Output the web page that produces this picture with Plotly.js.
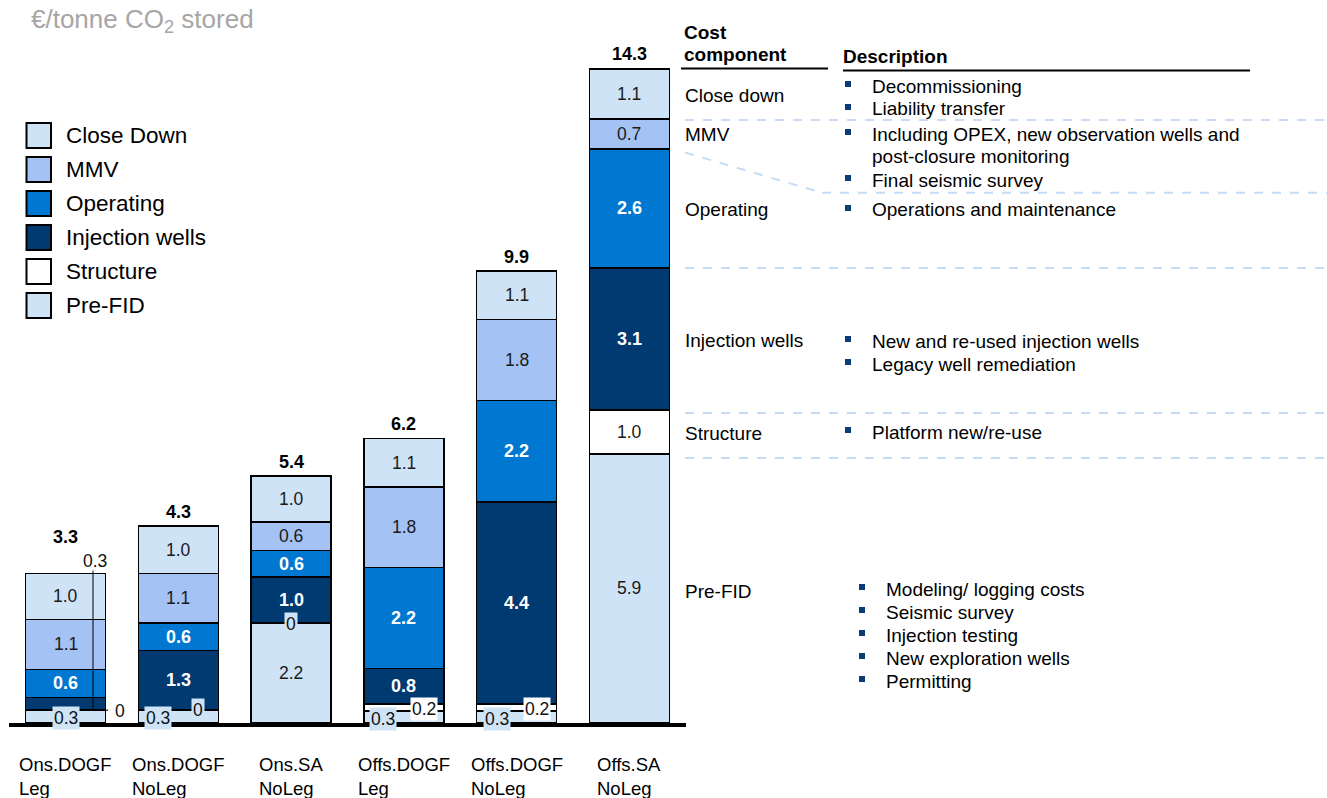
<!DOCTYPE html>
<html>
<head>
<meta charset="utf-8">
<script src="https://cdn.plot.ly/plotly-3.0.1.min.js"></script>
<style>html,body{margin:0;padding:0;background:#fff}#chart{width:1327px;height:798px}</style>
</head>
<body>
<div id="chart"></div>
<script>
// ---------------- DATA ----------------
const categories = ['Ons.DOGF Leg', 'Ons.DOGF NoLeg', 'Ons.SA NoLeg', 'Offs.DOGF Leg', 'Offs.DOGF NoLeg', 'Offs.SA NoLeg'];
const tickLabels = ['Ons.DOGF<br>Leg', 'Ons.DOGF<br>NoLeg', 'Ons.SA<br>NoLeg', 'Offs.DOGF<br>Leg', 'Offs.DOGF<br>NoLeg', 'Offs.SA<br>NoLeg'];

const preFID         = [0.28, 0.28, 2.19, 0.26, 0.26, 5.89];
const structure      = [0,    0,    0,    0.16, 0.16, 0.96];
const injectionWells = [0.28, 1.31, 1.00, 0.77, 4.42, 3.11];
const operating      = [0.61, 0.60, 0.59, 2.21, 2.22, 2.60];
const mmv            = [1.10, 1.08, 0.62, 1.76, 1.77, 0.66];
const closeDown      = [1.00, 1.04, 1.00, 1.07, 1.06, 1.09];

const componentNames = ['Pre-FID', 'Structure', 'Injection wells', 'Operating', 'MMV', 'Close Down'];

const unitLabel = '€/tonne CO<sub>2</sub> stored';

const costComponents = ['Close down', 'MMV', 'Operating', 'Injection wells', 'Structure', 'Pre-FID'];
const descriptions = [
  ['Decommissioning', 'Liability transfer'],
  [['Including OPEX, new observation wells and', 'post-closure monitoring'], 'Final seismic survey'],
  ['Operations and maintenance'],
  ['New and re-used injection wells', 'Legacy well remediation'],
  ['Platform new/re-use'],
  ['Modeling/ logging costs', 'Seismic survey', 'Injection testing', 'New exploration wells', 'Permitting']
];

// ---------------- STYLE ----------------
const componentColors = ['#CFE3F7', '#FFFFFF', '#003A70', '#0078D2', '#A4C2F4', '#CFE3F7'];
const darkComponents = ['Injection wells', 'Operating'];
const FONT = 'Liberation Sans, Arial, Helvetica, sans-serif';
const W = 1327, H = 798;
const plotLeft = 9.35, plotRight = 685.6, plotTop = 10, plotBottom = 723;
const pxPerUnit = 45.7;
const yMax = (plotBottom - plotTop) / pxPerUnit;
const catPx = (plotRight - plotLeft) / categories.length;
const px = v => v / W;
const py = v => 1 - v / H;

const seriesValues = [preFID, structure, injectionWells, operating, mmv, closeDown];

const traces = seriesValues.map((vals, j) => ({
  type: 'bar',
  name: componentNames[j],
  x: categories,
  y: vals,
  marker: {color: componentColors[j], line: {color: '#000', width: 1.5}},
  textposition: 'none',
  hoverinfo: 'none',
  showlegend: false
}));

const totals = categories.map((c, i) => seriesValues.reduce((s, a) => s + a[i], 0));
const fmt = v => v === 0 ? '0' : v.toFixed(1);

// special placement for the thin segments (pixel offsets)
const lightBg = '#CFE3F7';
const special = {
  'Pre-FID': {
    0: {ref: 'base', dx: 0, dy: 5, bg: lightBg},
    1: {ref: 'base', dx: -20, dy: 5, bg: lightBg},
    3: {ref: 'base', dx: -21, dy: 4, bg: lightBg},
    4: {ref: 'base', dx: -20, dy: 4, bg: lightBg}
  },
  'Structure': {
    0: {ref: 'base', dx: 54, dy: -1, bg: null},
    1: {ref: 'base', dx: 20, dy: 0, bg: lightBg},
    2: {ref: 'base', dx: 0, dy: -1, bg: lightBg},
    3: {ref: 'base', dx: 20, dy: 2, bg: '#FFFFFF'},
    4: {ref: 'base', dx: 20, dy: 2, bg: '#FFFFFF'}
  },
  'Injection wells': {
    0: {ref: 'total', dx: 29, dy: 13, bg: null}
  }
};
const totalShift = [37, 14, 14, 14, 14, 15];

const annotations = [];
const shapes = [];

categories.forEach((cat, i) => {
  let base = 0;
  seriesValues.forEach((vals, j) => {
    const v = vals[i];
    const name = componentNames[j];
    const sp = special[name] && special[name][i];
    const isDark = darkComponents.includes(name);
    if (sp) {
      const a = {
        x: cat, y: sp.ref === 'total' ? totals[i] : base,
        xref: 'x', yref: 'y', text: fmt(v), showarrow: false,
        xshift: sp.dx, yshift: sp.dy,
        font: {family: FONT, size: 17.5, color: '#111'},
        borderpad: 1
      };
      if (sp.bg) a.bgcolor = sp.bg;
      annotations.push(a);
    } else {
      annotations.push({
        x: cat, y: base + v / 2, xref: 'x', yref: 'y', text: fmt(v), showarrow: false,
        font: isDark ? {family: FONT, size: 18, color: '#FFFFFF', weight: 'bold'} : {family: FONT, size: 17.5, color: '#1a1a1a'}
      });
    }
    base += v;
  });
  // total
  annotations.push({
    x: cat, y: totals[i], xref: 'x', yref: 'y', text: '<b>' + fmt(totals[i]) + '</b>', showarrow: false,
    yshift: totalShift[i], font: {family: FONT, size: 18, color: '#000'}
  });
  // category label
  annotations.push({
    x: cat, y: py(776), xref: 'x', yref: 'paper', text: tickLabels[i], showarrow: false,
    align: 'left', xanchor: 'center', yanchor: 'middle',
    font: {family: FONT, size: 18.5, color: '#000'}
  });
});

// leader lines for first bar's thin segments
const unitPerPx = 1 / pxPerUnit;
shapes.push({type: 'line', xref: 'x', yref: 'y', x0: 27.3 / catPx, x1: 27.3 / catPx,
  y0: preFID[0], y1: totals[0] + 3 * unitPerPx, line: {color: '#000', width: 1}});
shapes.push({type: 'line', xref: 'x', yref: 'y', x0: 30.5 / catPx, x1: 42.5 / catPx,
  y0: preFID[0], y1: preFID[0], line: {color: '#000', width: 1}});

// unit title
annotations.push({x: px(29), y: py(21), xref: 'paper', yref: 'paper', xanchor: 'left', yanchor: 'middle',
  text: unitLabel, showarrow: false, font: {family: FONT, size: 26, color: '#A6A6A6'}});

// custom legend (top-most component first)
const legendNames = componentNames.slice().reverse();
const legendColors = componentColors.slice().reverse();
legendNames.forEach((n, k) => {
  const cy = 135.5 + k * 34;
  shapes.push({type: 'rect', xref: 'paper', yref: 'paper', x0: px(26.5), x1: px(51), y0: py(cy - 12.5), y1: py(cy + 12.5),
    fillcolor: legendColors[k], line: {color: '#000', width: 2}});
  annotations.push({x: px(64), y: py(cy), xref: 'paper', yref: 'paper', xanchor: 'left', yanchor: 'middle',
    text: n, showarrow: false, font: {family: FONT, size: 22.5, color: '#000'}});
});

// ---------------- RIGHT-HAND TABLE ----------------
const hdr = (t, x, y) => annotations.push({x: px(x), y: py(y), xref: 'paper', yref: 'paper', xanchor: 'left', yanchor: 'middle',
  text: '<b>' + t + '</b>', showarrow: false, font: {family: FONT, size: 19, color: '#000'}});
hdr('Cost', 682, 32);
hdr('component', 682, 54);
hdr('Description', 841, 57);
shapes.push({type: 'line', xref: 'paper', yref: 'paper', x0: px(681), x1: px(828), y0: py(68.5), y1: py(68.5), line: {color: '#000', width: 2}});
shapes.push({type: 'line', xref: 'paper', yref: 'paper', x0: px(843), x1: px(1250), y0: py(70.5), y1: py(70.5), line: {color: '#000', width: 2}});

const rowLabelY = [95, 134, 210, 340, 433, 591];
const descStartY = [86, 134, 210, 341, 432, 589];
const descIndent = [0, 0, 0, 0, 0, 14];
const lineStep = 23;
costComponents.forEach((c, r) => {
  annotations.push({x: px(683), y: py(rowLabelY[r]), xref: 'paper', yref: 'paper', xanchor: 'left', yanchor: 'middle',
    text: c, showarrow: false, font: {family: FONT, size: 19, color: '#000'}});
  let y = descStartY[r];
  descriptions[r].forEach(item => {
    const lines = Array.isArray(item) ? item : [item];
    const bx = 845 + descIndent[r];
    shapes.push({type: 'rect', xref: 'paper', yref: 'paper', x0: px(bx), x1: px(bx + 6), y0: py(y - 5), y1: py(y + 1),
      fillcolor: '#0B3C78', line: {width: 0}});
    lines.forEach(l => {
      annotations.push({x: px(870 + descIndent[r]), y: py(y), xref: 'paper', yref: 'paper', xanchor: 'left', yanchor: 'middle',
        text: l, showarrow: false, font: {family: FONT, size: 19, color: '#000'}});
      y += lineStep;
    });
  });
});

// dashed separators
const dashLine = {color: '#C6DCF4', width: 2, dash: 'dash'};
[120, 268, 413, 458].forEach(yy => {
  shapes.push({type: 'line', xref: 'paper', yref: 'paper', x0: px(685), x1: px(1327), y0: py(yy), y1: py(yy), line: dashLine});
});
shapes.push({type: 'line', xref: 'paper', yref: 'paper', x0: px(685), x1: px(822), y0: py(152.5), y1: py(192.7), line: dashLine});
shapes.push({type: 'line', xref: 'paper', yref: 'paper', x0: px(822), x1: px(1327), y0: py(192.7), y1: py(192.7), line: dashLine});

const layout = {
  width: W, height: H,
  margin: {l: 0, r: 0, t: 0, b: 0, pad: 0},
  paper_bgcolor: '#FFFFFF', plot_bgcolor: '#FFFFFF',
  barmode: 'stack',
  bargap: 1 - 80 / catPx,
  showlegend: false,
  font: {family: FONT, color: '#000'},
  xaxis: {
    type: 'category', domain: [px(plotLeft), px(plotRight)],
    showticklabels: false, ticks: '', showgrid: false, zeroline: false,
    showline: true, linecolor: '#000', linewidth: 4, fixedrange: true
  },
  yaxis: {
    domain: [py(plotBottom), py(plotTop)], range: [0, yMax],
    showticklabels: false, ticks: '', showgrid: false, zeroline: false, showline: false, fixedrange: true
  },
  annotations: annotations,
  shapes: shapes
};

Plotly.newPlot('chart', traces, layout, {displayModeBar: false, staticPlot: true});
</script>
</body>
</html>
